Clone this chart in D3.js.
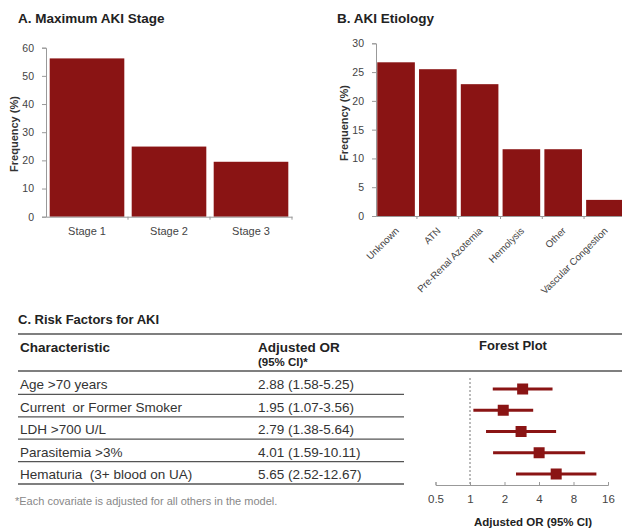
<!DOCTYPE html>
<html><head><meta charset="utf-8">
<script src="https://cdn.jsdelivr.net/npm/d3@7"></script>
<style>body{margin:0;background:#fff}svg{display:block;font-family:"Liberation Sans",Arial,sans-serif}</style>
</head><body><svg id="c" width="622" height="530"></svg>
<script>
const stageCats = ["Stage 1","Stage 2","Stage 3"];
const stageVals = [56.2, 24.9, 19.5];
const stageTicks = [0,10,20,30,40,50,60];

const etioCats = ["Unknown","ATN","Pre-Renal Azotemia","Hemolysis","Other","Vascular Congestion"];
const etioVals = [26.7, 25.5, 22.9, 11.6, 11.6, 2.8];
const etioTicks = [0,5,10,15,20,25,30];

const riskNames = ["Age >70 years","Current  or Former Smoker","LDH >700 U/L","Parasitemia >3%","Hematuria  (3+ blood on UA)"];
const riskOR = [2.88, 1.95, 2.79, 4.01, 5.65];
const riskLo = [1.58, 1.07, 1.38, 1.59, 2.52];
const riskHi = [5.25, 3.56, 5.64, 10.11, 12.67];
const riskText = ["2.88 (1.58-5.25)","1.95 (1.07-3.56)","2.79 (1.38-5.64)","4.01 (1.59-10.11)","5.65 (2.52-12.67)"];
const forestTicks = [0.5,1,2,4,8,16];

const RED = "#8a1414", AX = "#999", TXT = "#444";
const svg = d3.select("#c");

function barPanel(cats, vals, ticks, x0, x1, y0, y1, yMax, pIn, pOut) {
  const x = d3.scaleBand().domain(cats).range([x0, x1]).paddingInner(pIn).paddingOuter(pOut);
  const y = d3.scaleLinear().domain([0, yMax]).range([y0, y1]);
  const g = svg.append("g");
  g.selectAll("rect").data(vals).join("rect")
    .attr("x", (d,i)=>x(cats[i])).attr("width", x.bandwidth())
    .attr("y", d=>y(d)).attr("height", d=>y(0)-y(d)).attr("fill", RED);
  const ya = g.append("g").attr("transform",`translate(${x0},0)`)
    .call(d3.axisLeft(y).tickValues(ticks).tickSize(4).tickPadding(8));
  const xa = g.append("g").attr("transform",`translate(0,${y0})`)
    .call(d3.axisBottom(x).tickSize(0).tickPadding(8));
  [ya, xa].forEach(a=>{
    a.select(".domain").attr("stroke", AX);
    a.selectAll(".tick line").attr("stroke", AX);
    a.selectAll("text").attr("fill", TXT).attr("font-size", 10.5);
  });
  g.selectAll("line.sep").data(cats).join("line").attr("class","sep")
    .attr("x1", d=>x(d)+x.step()*(1-pIn/2)).attr("x2", d=>x(d)+x.step()*(1-pIn/2))
    .attr("y1", y0).attr("y2", y0+3).attr("stroke", AX);
  return {x, y, g, xa};
}

// Panel A
svg.append("text").attr("x",18).attr("y",23).attr("font-size",13.5).attr("font-weight","bold").attr("fill","#222").text("A. Maximum AKI Stage");
const A = barPanel(stageCats, stageVals, stageTicks, 46, 292, 216.7, 47.7, 60, 0.09, 0.045);
A.xa.selectAll("text").attr("dy","0.9em").attr("font-size",11);
svg.append("text").attr("transform","translate(18,134) rotate(-90)").attr("text-anchor","middle")
  .attr("font-size",11).attr("font-weight","bold").attr("fill","#333").text("Frequency (%)");

// Panel B
svg.append("text").attr("x",337).attr("y",23).attr("font-size",13.5).attr("font-weight","bold").attr("fill","#222").text("B. AKI Etiology");
const B = barPanel(etioCats, etioVals, etioTicks, 376, 625, 216, 43.3, 30, 0.1, 0.03);
B.xa.selectAll("text").attr("text-anchor","end").attr("font-size",9.8)
  .attr("y",0).attr("dy","0.35em")
  .attr("transform","translate(1,13) rotate(-45)");
svg.append("text").attr("transform","translate(348,123) rotate(-90)").attr("text-anchor","middle")
  .attr("font-size",11).attr("font-weight","bold").attr("fill","#333").text("Frequency (%)");

// Panel C
svg.append("text").attr("x",18).attr("y",324).attr("font-size",13).attr("font-weight","bold").attr("fill","#222").text("C. Risk Factors for AKI");
const LINE = "#555";
svg.append("line").attr("x1",18).attr("x2",622).attr("y1",334).attr("y2",334).attr("stroke",LINE).attr("stroke-width",1.3);
svg.append("line").attr("x1",18).attr("x2",622).attr("y1",371).attr("y2",371).attr("stroke",LINE).attr("stroke-width",1.3);
svg.append("text").attr("x",20).attr("y",352).attr("font-size",13.5).attr("font-weight","bold").attr("fill","#222").text("Characteristic");
svg.append("text").attr("x",258).attr("y",352).attr("font-size",13.5).attr("font-weight","bold").attr("fill","#222").text("Adjusted OR");
svg.append("text").attr("x",258).attr("y",366).attr("font-size",11.5).attr("font-weight","bold").attr("fill","#222").text("(95% CI)*");
svg.append("text").attr("x",513).attr("y",350).attr("text-anchor","middle").attr("font-size",13).attr("font-weight","bold").attr("fill","#222").text("Forest Plot");

const rowY = d3.scaleBand().domain(d3.range(riskNames.length)).range([372, 484]);
const tg = svg.append("g");
tg.selectAll("text.n").data(riskNames).join("text").attr("class","n")
  .attr("x",20).attr("y",(d,i)=>rowY(i)+rowY.bandwidth()-5).attr("font-size",13.5).attr("fill","#333")
  .attr("xml:space","preserve").text(d=>d);
tg.selectAll("text.v").data(riskText).join("text").attr("class","v")
  .attr("x",258).attr("y",(d,i)=>rowY(i)+rowY.bandwidth()-5).attr("font-size",13.5).attr("fill","#333").text(d=>d);
tg.selectAll("line").data(riskNames).join("line")
  .attr("x1",18).attr("x2",404).attr("y1",(d,i)=>rowY(i)+rowY.bandwidth()).attr("y2",(d,i)=>rowY(i)+rowY.bandwidth())
  .attr("stroke",LINE).attr("stroke-width",1.3);
svg.append("text").attr("x",15).attr("y",505).attr("font-size",11).attr("fill","#888")
  .text("*Each covariate is adjusted for all others in the model.");

// Forest plot
const fx = d3.scaleLog().base(2).domain([0.5,16]).range([435.5, 608]);
const fy = d3.scalePoint().domain(d3.range(riskNames.length)).range([389, 474]);
const fg = svg.append("g");
fg.append("line").attr("x1",fx(1)).attr("x2",fx(1)).attr("y1",378).attr("y2",485)
  .attr("stroke","#777").attr("stroke-dasharray","2,2");
const fa = fg.append("g").attr("transform","translate(0,485)")
  .call(d3.axisBottom(fx).tickValues(forestTicks).tickFormat(d=>String(d)).tickSizeOuter(0).tickSize(-3).tickPadding(10));
fa.select(".domain").attr("stroke", AX);
fa.selectAll(".tick line").attr("stroke", AX).attr("y2",-3);
fa.selectAll("text").attr("fill", TXT).attr("font-size", 11.5);
fg.selectAll("line.ci").data(riskOR).join("line").attr("class","ci")
  .attr("x1",(d,i)=>fx(riskLo[i])).attr("x2",(d,i)=>fx(riskHi[i]))
  .attr("y1",(d,i)=>fy(i)).attr("y2",(d,i)=>fy(i)).attr("stroke",RED).attr("stroke-width",3);
fg.selectAll("rect").data(riskOR).join("rect")
  .attr("x",d=>fx(d)-5.5).attr("y",(d,i)=>fy(i)-5.5).attr("width",11).attr("height",11).attr("fill",RED);
svg.append("text").attr("x",533).attr("y",526).attr("text-anchor","middle").attr("font-size",11.5)
  .attr("font-weight","bold").attr("fill","#222").text("Adjusted OR (95% CI)");
</script></body></html>
